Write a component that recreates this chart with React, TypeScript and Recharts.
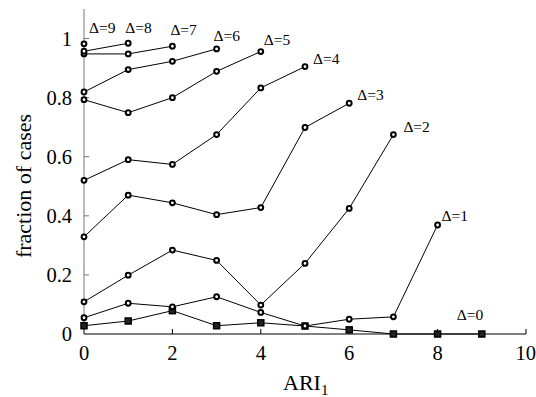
import React from "react";
import { LineChart, Line, XAxis, YAxis, Customized } from "recharts";

// fraction of cases per ARI1 value (index = ARI1), one array per Δ
const delta0 = [0.028, 0.044, 0.079, 0.028, 0.038, 0.027, 0.014, 0, 0, 0];
const delta1 = [0.055, 0.104, 0.092, 0.126, 0.073, 0.027, 0.05, 0.058, 0.369];
const delta2 = [0.109, 0.199, 0.284, 0.249, 0.098, 0.239, 0.425, 0.675];
const delta3 = [0.329, 0.47, 0.444, 0.404, 0.428, 0.699, 0.781];
const delta4 = [0.52, 0.59, 0.574, 0.675, 0.833, 0.905];
const delta5 = [0.793, 0.749, 0.8, 0.889, 0.956];
const delta6 = [0.819, 0.895, 0.923, 0.965];
const delta7 = [0.948, 0.948, 0.974];
const delta8 = [0.957, 0.984];
const delta9 = [0.982];

const seriesValues = [delta0, delta1, delta2, delta3, delta4, delta5, delta6, delta7, delta8, delta9];
const seriesNames = ["Δ=0", "Δ=1", "Δ=2", "Δ=3", "Δ=4", "Δ=5", "Δ=6", "Δ=7", "Δ=8", "Δ=9"];

const xTicks = [0, 2, 4, 6, 8, 10];
const yTicks = [0, 0.2, 0.4, 0.6, 0.8, 1];

// where each Δ label sits relative to the series' last point
const labelOffsets = [
  [-25, -14], [4, -4], [10, -3], [8, -3], [8, -3],
  [3, -7], [-3, -8], [-2, -11], [-3, -10], [5, -11]
];

const FONT = "'Liberation Serif', 'Times New Roman', serif";

const seriesData = seriesValues.map((vals) => vals.map((v, i) => ({ ari: i, frac: v })));

function makeDot(seriesIdx: number) {
  const last = seriesValues[seriesIdx].length - 1;
  const square = seriesIdx === 0;
  return (props: any) => {
    const { cx, cy, index } = props;
    const [dx, dy] = labelOffsets[seriesIdx];
    return (
      <g key={`d${seriesIdx}-${index}`}>
        {square ? (
          <rect x={cx - 3} y={cy - 3} width={6} height={6} fill="#222" stroke="#000" strokeWidth={1.5} />
        ) : (
          <circle cx={cx} cy={cy} r={2.4} fill="#fff" stroke="#000" strokeWidth={2} />
        )}
        {index === last && (
          <text x={cx + dx} y={cy + dy} style={{ fontFamily: FONT }} fontSize={15.5} fill="#000">
            {seriesNames[seriesIdx]}
          </text>
        )}
      </g>
    );
  };
}

const formatY = (v: number) => (v === 0 ? "0" : v === 1 ? "1" : v.toFixed(1));
const noTick = () => <g />;

function Titles() {
  return (
    <g style={{ fontFamily: FONT }} fill="#000">
      <text x={31} y={186} fontSize={22} textAnchor="middle" transform="rotate(-90 31 186)">
        fraction of cases
      </text>
      <text x={283} y={390} fontSize={22}>
        ARI
        <tspan fontSize={15} dy={5}>1</tspan>
      </text>
    </g>
  );
}

export default function App() {
  return (
    <div style={{ position: "absolute", left: 0, top: 0, background: "#fff", fontFamily: FONT }}>
      <LineChart width={536} height={397} margin={{ top: 9, right: 10, bottom: 0, left: 0 }}>
        <XAxis
          xAxisId="b"
          type="number"
          dataKey="ari"
          domain={[0, 10]}
          ticks={xTicks}
          height={63}
          tickSize={-5}
          tickMargin={16}
          stroke="#000"
          tick={{ fontSize: 20.5, fill: "#000", style: { fontFamily: FONT } }}
        />
        <XAxis
          xAxisId="t"
          orientation="top"
          type="number"
          dataKey="ari"
          domain={[0, 10]}
          ticks={xTicks}
          height={0}
          tickSize={-5}
          stroke="#000"
          tick={noTick}
        />
        <YAxis
          yAxisId="l"
          type="number"
          domain={[0, 1.1]}
          ticks={yTicks}
          width={84}
          tickSize={-5}
          tickMargin={17}
          stroke="#777"
          tickFormatter={formatY}
          tick={{ fontSize: 20.5, fill: "#000", style: { fontFamily: FONT } }}
        />
        <YAxis
          yAxisId="r"
          orientation="right"
          type="number"
          domain={[0, 1.1]}
          ticks={yTicks}
          width={0}
          tickSize={-5}
          stroke="#000"
          tick={noTick}
        />
        {seriesData.map((d, i) => (
          <Line
            key={seriesNames[i]}
            xAxisId="b"
            yAxisId="l"
            data={d}
            dataKey="frac"
            stroke="#000"
            strokeWidth={1}
            dot={makeDot(i)}
            activeDot={false}
            isAnimationActive={false}
          />
        ))}
        <Customized component={Titles} />
      </LineChart>
    </div>
  );
}
